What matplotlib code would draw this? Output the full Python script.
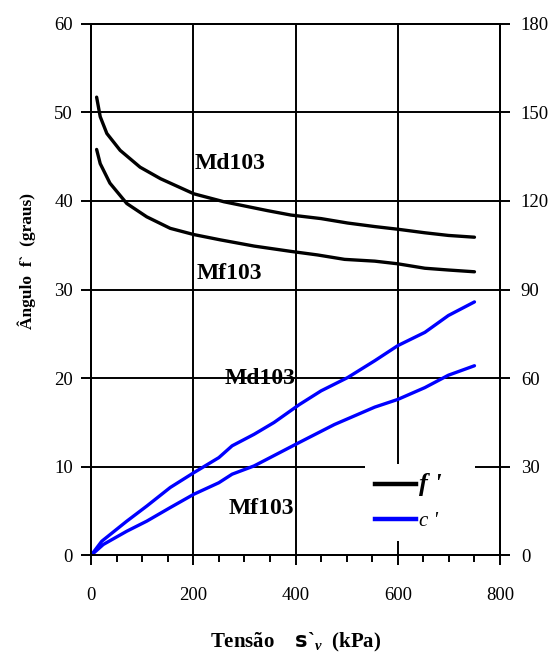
import matplotlib
matplotlib.use("Agg")
import matplotlib.pyplot as plt
from matplotlib.lines import Line2D
from matplotlib.ticker import MultipleLocator

plt.rcParams["font.family"] = ["Liberation Serif", "DejaVu Serif"]
plt.rcParams["mathtext.fontset"] = "custom"
plt.rcParams["mathtext.rm"] = "Liberation Serif:bold"
plt.rcParams["mathtext.it"] = "Liberation Serif:italic:bold"
plt.rcParams["mathtext.bf"] = "Liberation Serif:bold"
plt.rcParams["mathtext.sf"] = "DejaVu Sans:bold"

# friction angle phi' (left axis, graus)
x_phi_md = [11, 18, 31, 57, 96, 136, 201, 260, 345, 391, 450, 502, 555, 600, 653, 699, 750]
phi_md = [51.7, 49.5, 47.6, 45.7, 43.8, 42.5, 40.8, 39.9, 38.9, 38.4, 38.0, 37.5,
          37.1, 36.8, 36.4, 36.1, 35.9]
x_phi_mf = [11, 18, 37, 70, 109, 155, 201, 253, 319, 391, 443, 496, 555, 600, 653, 699, 750]
phi_mf = [45.8, 44.2, 42.0, 39.7, 38.2, 36.9, 36.2, 35.6, 34.9, 34.3, 33.9, 33.4,
          33.2, 32.9, 32.4, 32.2, 32.0]

# cohesion c' (right axis, kPa)
x_c_md = [0, 21, 70, 109, 155, 201, 250, 276, 319, 358, 407, 450, 502, 555, 600, 653, 699, 750]
c_md = [0, 4.8, 11.6, 16.7, 23.0, 28.0, 33.1, 37.1, 41.0, 45.0, 51.0, 55.7, 60.2,
        65.9, 71.0, 75.5, 81.2, 85.8]
x_c_mf = [0, 24, 70, 109, 155, 201, 250, 276, 319, 407, 476, 555, 600, 653, 699, 750]
c_mf = [0, 3.7, 8.2, 11.6, 16.2, 20.7, 24.6, 27.5, 30.3, 38.2, 44.3, 50.2, 52.8,
        56.8, 61.0, 64.2]

fig = plt.figure(figsize=(5.59, 6.55), dpi=100)
ax = fig.add_axes([0.1628, 0.152, 0.7317, 0.812])
ax2 = ax.twinx()

lw = 2.4
ax.plot(x_phi_md, phi_md, color="black", lw=lw, solid_capstyle="round")
ax.plot(x_phi_mf, phi_mf, color="black", lw=lw, solid_capstyle="round")
ax2.plot(x_c_md, c_md, color="#0000FF", lw=lw, solid_capstyle="round")
ax2.plot(x_c_mf, c_mf, color="#0000FF", lw=lw, solid_capstyle="round")

ax.set_xlim(0, 800)
ax.set_ylim(0, 60)
ax2.set_ylim(0, 180)
ax.xaxis.set_major_locator(MultipleLocator(200))
ax.xaxis.set_minor_locator(MultipleLocator(50))
ax.yaxis.set_major_locator(MultipleLocator(10))
ax2.yaxis.set_major_locator(MultipleLocator(30))

ax.grid(True, which="major", color="black", lw=1.4)
for a in (ax, ax2):
    for s in a.spines.values():
        s.set_linewidth(1.4)
ax.tick_params(axis="y", which="major", direction="out", length=7, width=1.4,
               labelsize=13.5, pad=6)
ax.tick_params(axis="x", which="major", direction="out", length=7, width=1.4,
               labelsize=13.5, pad=16)
ax.tick_params(axis="x", which="minor", direction="out", length=5, width=1.4)
ax2.tick_params(direction="out", length=7, width=1.4, labelsize=13.5, pad=8)

ax.set_xlabel("Tensão    $\\mathsf{s}$`$_{v}$  (kPa)", fontsize=15, fontweight="bold",
              labelpad=19)
ax.set_ylabel("Ângulo  f`  (graus)", fontsize=12.5, fontweight="bold")
ax.yaxis.set_label_coords(-0.134, 0.553)

tkw = dict(fontsize=17, fontweight="bold", va="center", ha="left")
ax.text(203, 44.2, "Md103", **tkw)
ax.text(207, 31.8, "Mf103", **tkw)
ax.text(262, 20.0, "Md103", **tkw)
ax.text(269, 5.3, "Mf103", **tkw)

handles = [Line2D([], [], color="black", lw=3.2), Line2D([], [], color="#0000FF", lw=3.2)]
leg = ax2.legend(handles, ["f '", "c '"], loc="lower left",
                 bbox_to_anchor=(0.67, 0.028, 0.27, 0.141), mode="expand",
                 borderaxespad=0, frameon=True, fancybox=False, framealpha=1,
                 edgecolor="none", handlelength=2.1, handletextpad=0.2,
                 fontsize=14, borderpad=0.5, labelspacing=0.8)
t_phi, t_c = leg.get_texts()
t_phi.set_fontweight("bold")
t_phi.set_fontstyle("italic")
t_phi.set_fontsize(19)
t_c.set_fontstyle("italic")
t_c.set_fontsize(15)

fig.savefig("out.png", dpi=100)
